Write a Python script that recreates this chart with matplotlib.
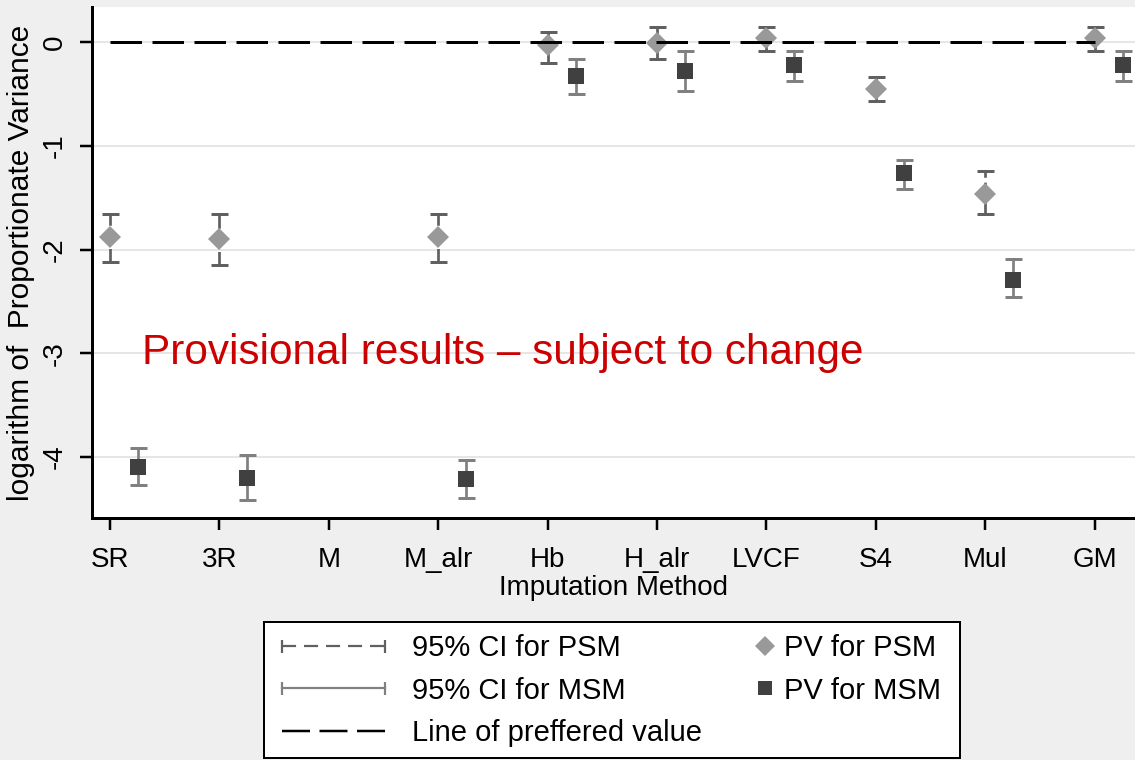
import matplotlib
matplotlib.use("Agg")
import matplotlib.pyplot as plt
import numpy as np
from matplotlib.lines import Line2D
from matplotlib.patches import Rectangle

# values (log of proportionate variance)
methods = ["SR", "3R", "M", "M_alr", "Hb", "H_alr", "LVCF", "S4", "Mul", "GM"]
psm_pv = [-1.88, -1.90, np.nan, -1.88, -0.03, -0.01, 0.04, -0.45, -1.46, 0.04]
psm_lo = [-2.12, -2.15, np.nan, -2.12, -0.20, -0.16, -0.08, -0.57, -1.66, -0.08]
psm_hi = [-1.66, -1.66, np.nan, -1.66, 0.10, 0.15, 0.15, -0.34, -1.24, 0.15]
msm_pv = [-4.10, -4.20, np.nan, -4.21, -0.33, -0.28, -0.22, -1.26, -2.29, -0.22]
msm_lo = [-4.27, -4.42, np.nan, -4.40, -0.50, -0.47, -0.37, -1.42, -2.46, -0.37]
msm_hi = [-3.91, -3.98, np.nan, -4.03, -0.16, -0.08, -0.08, -1.14, -2.09, -0.08]
preferred_value = 0.0
ytick_vals = [0, -1, -2, -3, -4]
ytick_labels = ["0", "-1", "-2", "-3", "-4"]

PX = 72 / 100  # points per pixel at dpi=100
W, H = 1135, 760
BG = "#efefef"
PSM_MARK, PSM_CI = "#999999", "#606060"
MSM_MARK, MSM_CI = "#404040", "#808080"

plt.rcParams["font.family"] = ["Liberation Sans", "DejaVu Sans"]
plt.rcParams["axes.unicode_minus"] = False

fig = plt.figure(figsize=(W / 100, H / 100), dpi=100, facecolor=BG)
ax = fig.add_axes([92 / W, 1 - 518 / H, 1 - 92 / W, (518 - 7) / H])

x = np.arange(len(methods))
x_msm = x + 0.256


def draw_ci(xs, pv, lo, hi, color, dashed):
    pv, lo, hi = map(np.asarray, (pv, lo, hi))
    ok = ~np.isnan(pv)
    eb = ax.errorbar(xs[ok], pv[ok], yerr=[pv[ok] - lo[ok], hi[ok] - pv[ok]],
                     fmt="none", ecolor=color, elinewidth=2.7 * PX,
                     capsize=8.5 * PX, capthick=3 * PX, zorder=2)
    if dashed:
        eb[2][0].set_linestyle((0, (5, 1.8)))


draw_ci(x, psm_pv, psm_lo, psm_hi, PSM_CI, dashed=True)
draw_ci(x_msm, msm_pv, msm_lo, msm_hi, MSM_CI, dashed=False)
ax.plot(x, psm_pv, ls="none", marker="D", ms=15.5 * PX, color=PSM_MARK, mew=0, zorder=3)
ax.plot(x_msm, msm_pv, ls="none", marker="s", ms=16 * PX, color=MSM_MARK, mew=0, zorder=3)
ax.hlines(preferred_value, x[0], x[-1], color="black", lw=3 * PX,
          linestyles=(0, (10.5, 3.5)), zorder=4)

ax.text(0.29, -3.0, "Provisional results \u2013 subject to change",
        color="#cc0000", fontsize=30.4, va="center", ha="left", zorder=5)

ax.set_xlim(-0.165, (W - 110) / 109.4)
ax.set_ylim(-4.59, 0.34)
ax.set_xticks(x)
ax.set_xticklabels(methods)
ax.set_yticks(ytick_vals)
ax.set_yticklabels(ytick_labels, rotation=90, va="center")
ax.yaxis.grid(True, color="#e6e6e6", lw=2 * PX)
ax.set_axisbelow(True)
for side in ("top", "right"):
    ax.spines[side].set_visible(False)
for side in ("left", "bottom"):
    ax.spines[side].set_linewidth(3 * PX)
ax.tick_params(axis="both", length=12 * PX, width=2.5 * PX, labelsize=20)
ax.tick_params(axis="y", pad=9)
ax.tick_params(axis="x", pad=12.5)
ax.set_xlabel("Imputation Method", fontsize=20, labelpad=1)
ax.set_ylabel("logarithm of  Proportionate Variance", fontsize=21.5, labelpad=5)

# legend: framed box with two columns
box = Rectangle((264 / W, 2 / H), (960 - 264) / W, (758 - 622) / H,
                transform=fig.transFigure, facecolor="white", edgecolor="black",
                lw=2 * PX, zorder=1)
fig.add_artist(box)

h_ci_psm = Line2D([], [], color=PSM_CI, lw=2.2 * PX, ls=(0, (6.4, 3.6)),
                  marker="|", ms=13 * PX, mew=2.2 * PX)
h_ci_msm = Line2D([], [], color=MSM_CI, lw=2.2 * PX, marker="|", ms=13 * PX, mew=2.2 * PX)
h_pref = Line2D([], [], color="black", lw=2.5 * PX, ls=(0, (11.2, 3.8)))
leg1 = fig.legend([h_ci_psm, h_ci_msm, h_pref],
                  ["95% CI for PSM", "95% CI for MSM", "Line of preffered value"],
                  loc="upper left", bbox_to_anchor=(273 / W, 1 - 634 / H),
                  frameon=False, fontsize=21, numpoints=2, handlelength=4.13,
                  handletextpad=0.63, labelspacing=0.5, borderpad=0, borderaxespad=0)
leg1.set_zorder(2)

h_psm = Line2D([], [], ls="none", marker="D", ms=14 * PX, color=PSM_MARK, mew=0)
h_msm = Line2D([], [], ls="none", marker="s", ms=14 * PX, color=MSM_MARK, mew=0)
leg2 = fig.legend([h_psm, h_msm], ["PV for PSM", "PV for MSM"],
                  loc="upper left", bbox_to_anchor=(752 / W, 1 - 634 / H),
                  frameon=False, fontsize=21, numpoints=1, handlelength=0.9,
                  handletextpad=0.2, labelspacing=0.5, borderpad=0, borderaxespad=0)
leg2.set_zorder(2)

fig.savefig("out.png", dpi=100, facecolor=BG)
